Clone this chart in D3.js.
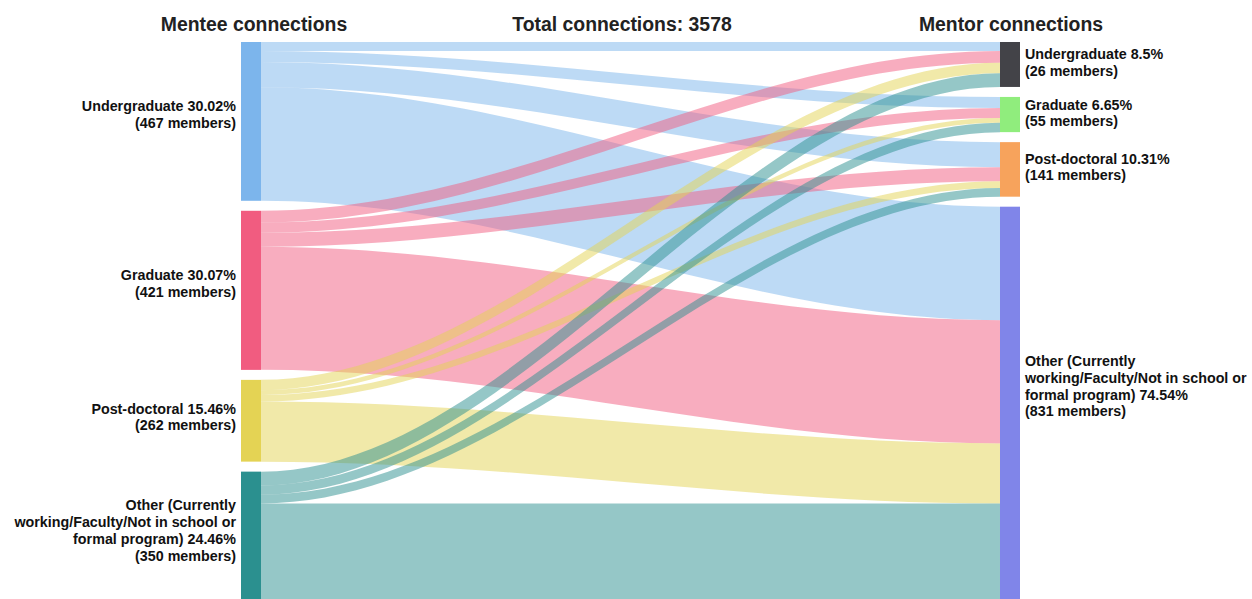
<!DOCTYPE html>
<html>
<head>
<meta charset="utf-8">
<script src="https://cdn.jsdelivr.net/npm/d3@7"></script>
<style>
  html, body { margin: 0; padding: 0; background: #fff; }
  svg { display: block; }
  text { font-family: "Liberation Sans", Arial, sans-serif; }
</style>
</head>
<body>
<svg id="chart" width="1252" height="599"></svg>
<script>
// ---------- data ----------
const categories = ["Undergraduate", "Graduate", "Post-doctoral",
  "Other (Currently working/Faculty/Not in school or formal program)"];
const menteePct = ["30.02%", "30.07%", "15.46%", "24.46%"];
const menteeMembers = [467, 421, 262, 350];
const mentorPct = ["8.5%", "6.65%", "10.31%", "74.54%"];
const mentorMembers = [26, 55, 141, 831];
// connections from mentee category (row) to mentor category (column)
const fromUndergraduate = [61, 75, 170, 768];
const fromGraduate = [80, 68, 95, 833];
const fromPostdoc = [70, 32, 45, 406];
const fromOther = [93, 63, 59, 660];
const flows = [fromUndergraduate, fromGraduate, fromPostdoc, fromOther];
const titles = ["Mentee connections", "Total connections: ", "Mentor connections"];

// ---------- layout ----------
const W = 1252, H = 599;
const plotTop = 42, plotBottom = 601;
const nodeW = 20, nodePad = 10;
const leftX = 241, rightX = 1000;
const curveFactor = 0.33;
const menteeColors = ["#7cb5ec", "#f15c80", "#e4d354", "#2b908f"];
const mentorColors = ["#434348", "#90ed7d", "#f7a35c", "#8085e9"];

const svg = d3.select("#chart");
const srcTotals = flows.map(r => d3.sum(r));
const tgtTotals = categories.map((c, j) => d3.sum(flows, r => r[j]));
const total = d3.sum(srcTotals);

const k = d3.scaleLinear().domain([0, total])
  .range([0, plotBottom - plotTop - nodePad * (categories.length - 1)]);

function stackNodes(totals) {
  let y = plotTop;
  return totals.map(v => {
    const n = { y0: y, y1: y + k(v) };
    y = n.y1 + nodePad;
    return n;
  });
}
const leftNodes = stackNodes(srcTotals);
const rightNodes = stackNodes(tgtTotals);

// link geometry
const links = [];
const outOff = leftNodes.map(n => n.y0);
const inOff = rightNodes.map(n => n.y0);
flows.forEach((row, i) => row.forEach((v, j) => {
  links.push({ i, j, v, sy: 0, ty: 0 });
}));
links.forEach(l => { l.sy = outOff[l.i]; outOff[l.i] += k(l.v); });
[...links].sort((a, b) => a.j - b.j || a.i - b.i)
  .forEach(l => { l.ty = inOff[l.j]; inOff[l.j] += k(l.v); });

const x0 = leftX + nodeW, x1 = rightX;
const curvy = (x1 + nodeW - leftX) * curveFactor;
function bandPath(l) {
  const h = k(l.v);
  const p = d3.path();
  p.moveTo(x0, l.sy);
  p.bezierCurveTo(x0 + curvy, l.sy, x1 - curvy, l.ty, x1, l.ty);
  p.lineTo(x1, l.ty + h);
  p.bezierCurveTo(x1 - curvy, l.ty + h, x0 + curvy, l.sy + h, x0, l.sy + h);
  p.closePath();
  return p.toString();
}

svg.append("g").selectAll("path").data(links).join("path")
  .attr("d", bandPath)
  .attr("fill", d => menteeColors[d.i])
  .attr("fill-opacity", 0.5);

// nodes
svg.append("g").selectAll("rect").data(leftNodes).join("rect")
  .attr("x", leftX).attr("y", d => d.y0)
  .attr("width", nodeW).attr("height", d => d.y1 - d.y0)
  .attr("fill", (d, i) => menteeColors[i]);
svg.append("g").selectAll("rect").data(rightNodes).join("rect")
  .attr("x", rightX).attr("y", d => d.y0)
  .attr("width", nodeW).attr("height", d => d.y1 - d.y0)
  .attr("fill", (d, i) => mentorColors[i]);

// labels
function labelLines(i, pct, members) {
  const name = categories[i];
  if (i === 3) {
    return ["Other (Currently", "working/Faculty/Not in school or",
      "formal program) " + pct, "(" + members + " members)"];
  }
  return [name + " " + pct, "(" + members + " members)"];
}
const lineH = 16.8;
const labelSize = 14.3;
function drawLabels(nodes, pcts, members, x, anchor) {
  nodes.forEach((n, i) => {
    const lines = labelLines(i, pcts[i], members[i]);
    const cy = n.y0 + (n.y1 - n.y0) * 0.455;
    const firstBase = cy - (lines.length - 1) * lineH / 2 + 5;
    const t = svg.append("text")
      .attr("x", x).attr("text-anchor", anchor)
      .attr("font-size", labelSize).attr("font-weight", "bold").attr("fill", "#111");
    lines.forEach((s, li) => {
      t.append("tspan").attr("x", x).attr("y", firstBase + li * lineH).text(s);
    });
  });
}
drawLabels(leftNodes, menteePct, menteeMembers, leftX - 5, "end");
drawLabels(rightNodes, mentorPct, mentorMembers, rightX + nodeW + 5, "start");

// titles
const titleY = 31;
const titleSize = 19.4;
svg.append("text").attr("x", leftX + nodeW / 2 + 3).attr("y", titleY)
  .attr("text-anchor", "middle").attr("font-size", titleSize).attr("font-weight", "bold")
  .attr("fill", "#222").text(titles[0]);
svg.append("text").attr("x", 622).attr("y", titleY)
  .attr("text-anchor", "middle").attr("font-size", titleSize).attr("font-weight", "bold")
  .attr("fill", "#222").text(titles[1] + total);
svg.append("text").attr("x", rightX + nodeW / 2 + 1).attr("y", titleY)
  .attr("text-anchor", "middle").attr("font-size", titleSize).attr("font-weight", "bold")
  .attr("fill", "#222").text(titles[2]);
</script>
</body>
</html>
